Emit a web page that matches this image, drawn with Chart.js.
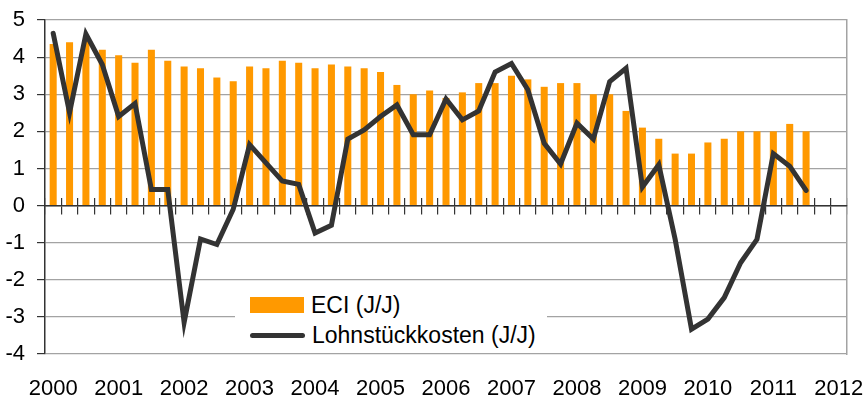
<!DOCTYPE html>
<html>
<head>
<meta charset="utf-8">
<script src="https://cdn.jsdelivr.net/npm/chart.js@4.4.1/dist/chart.umd.min.js"></script>
<style>
  html, body { margin: 0; padding: 0; background: #fff; }
  #wrap { position: relative; width: 866px; height: 401px; }
  #chart { position: absolute; left: 0; top: 0; }
  #legend { position: absolute; left: 235px; top: 286px; width: 312px; height: 64px; background: #fff;
            font-family: "Liberation Sans", Arial, sans-serif; font-size: 23px; color: #000; }
  .item { position: absolute; left: 15px; height: 26px; display: flex; align-items: center; }
  .sw { display: inline-block; margin-right: 7px; }
  .lbl { white-space: nowrap; line-height: 26px; }
</style>
</head>
<body>
<div id="wrap">
  <canvas id="chart" width="866" height="401"></canvas>
  <div id="legend"></div>
</div>
<script>
// ---- data ----
const years = ['2000','2001','2002','2003','2004','2005','2006','2007','2008','2009','2010','2011','2012'];
const quarterNames = ['Q1','Q2','Q3','Q4'];
const seriesNames = ['ECI (J/J)', 'Lohnstückkosten (J/J)'];
// ECI (J/J), quarterly 2000Q1 - 2011Q3
const eci = [4.35, 4.4, 4.45, 4.2, 4.05, 3.85, 4.2, 3.9, 3.75, 3.7, 3.45, 3.35,
             3.75, 3.7, 3.9, 3.85, 3.7, 3.8, 3.75, 3.7, 3.6, 3.25, 3.0, 3.1,
             2.9, 3.05, 3.3, 3.3, 3.5, 3.4, 3.2, 3.3, 3.3, 3.0, 3.0, 2.55,
             2.1, 1.8, 1.4, 1.4, 1.7, 1.8, 2.0, 2.0, 2.0, 2.2, 2.0];
// Lohnstückkosten (J/J), quarterly 2000Q1 - 2011Q3
const ulc = [4.64, 2.5, 4.62, 3.8, 2.4, 2.75, 0.43, 0.43, -3.15, -0.9, -1.05, -0.1,
             1.64, 1.15, 0.66, 0.57, -0.74, -0.53, 1.79, 2.04, 2.4, 2.71, 1.91, 1.91,
             2.87, 2.31, 2.55, 3.6, 3.83, 3.12, 1.68, 1.12, 2.22, 1.79, 3.34, 3.7,
             0.5, 1.1, -0.91, -3.33, -3.06, -2.48, -1.54, -0.91, 1.4, 1.06, 0.41];
const yTicks = [-4, -3, -2, -1, 0, 1, 2, 3, 4, 5];

// category labels: every quarter 2000Q1 .. 2012Q1
const labels = [];
years.forEach((y, yi) => quarterNames.forEach((q, qi) => {
  if (yi < years.length - 1 || qi === 0) labels.push(y + ' ' + q);
}));

const ORANGE = '#FF9900';
const DARK = '#333333';
const GRID = '#a3a3a3';
const FONT = { family: '"Liberation Sans", Arial, sans-serif', size: 22 };

new Chart(document.getElementById('chart'), {
  type: 'bar',
  data: {
    labels: labels,
    datasets: [
      { type: 'line', label: seriesNames[1], data: ulc, borderColor: DARK, backgroundColor: DARK,
        borderWidth: 5, pointRadius: 0, tension: 0, order: 0, xAxisID: 'x', yAxisID: 'y',
        borderCapStyle: 'round', borderJoinStyle: 'miter' },
      { type: 'bar', label: seriesNames[0], data: eci, backgroundColor: ORANGE,
        barPercentage: 0.43, categoryPercentage: 1, order: 1, xAxisID: 'x', yAxisID: 'y' }
    ]
  },
  options: {
    responsive: false,
    animation: false,
    layout: { padding: { left: 0, right: 19, top: 20, bottom: 0 } },
    plugins: { legend: { display: false }, tooltip: { enabled: false } },
    scales: {
      y: {
        position: 'left', min: -4, max: 5,
        afterBuildTicks: s => { s.ticks = yTicks.map(v => ({ value: v })); },
        afterFit: s => { s.width = 45; s.paddingTop = 0; s.paddingBottom = 0; },
        ticks: { font: FONT, color: '#000', padding: 12 },
        grid: { color: GRID, lineWidth: 1.2, tickColor: DARK, tickLength: 8 },
        border: { color: DARK, width: 1.5 }
      },
      yR: {
        position: 'right', axis: 'y', min: -4, max: 5,
        ticks: { display: false },
        grid: { display: false, drawTicks: false },
        border: { color: GRID, width: 1.5 },
        afterFit: s => { s.width = 0; s.paddingTop = 0; s.paddingBottom = 0; }
      },
      x: {
        type: 'category', position: { y: 0 }, offset: true,
        ticks: { display: false, autoSkip: false },
        grid: { offset: true, drawOnChartArea: false, tickLength: 8, tickColor: DARK, lineWidth: 1.2 },
        border: { color: DARK, width: 1.5 }
      },
      xUp: {
        type: 'category', axis: 'x', position: { y: 0 }, offset: true,
        ticks: { display: false, autoSkip: false },
        grid: { offset: true, drawOnChartArea: false, tickLength: -8, tickColor: DARK, lineWidth: 1.2 },
        border: { display: false }
      },
      xL: {
        type: 'category', axis: 'x', position: 'bottom', offset: true,
        ticks: {
          autoSkip: false, maxRotation: 0, minRotation: 0, font: FONT, color: '#000', padding: 22,
          callback: function (v) { const l = this.getLabelForValue(v); return l.endsWith('Q1') ? l.slice(0, 4) : ''; }
        },
        grid: { display: false, drawTicks: false },
        border: { display: false },
        afterFit: s => { s.height = 47; s.paddingLeft = 0; s.paddingRight = 0; }
      }
    }
  }
});

// legend (HTML overlay, real text)
const legend = document.getElementById('legend');
const items = [
  { name: seriesNames[0], sw: 'width:54px;height:16px;background:' + ORANGE + ';' },
  { name: seriesNames[1], sw: 'width:55px;height:5px;border-radius:3px;background:' + DARK + ';' }
];
items.forEach((it, i) => {
  const d = document.createElement('div');
  d.className = 'item';
  d.style.top = (6 + i * 30) + 'px';
  d.innerHTML = '<span class="sw" style="' + it.sw + '"></span><span class="lbl"></span>';
  d.querySelector('.lbl').textContent = it.name;
  legend.appendChild(d);
});
</script>
</body>
</html>
